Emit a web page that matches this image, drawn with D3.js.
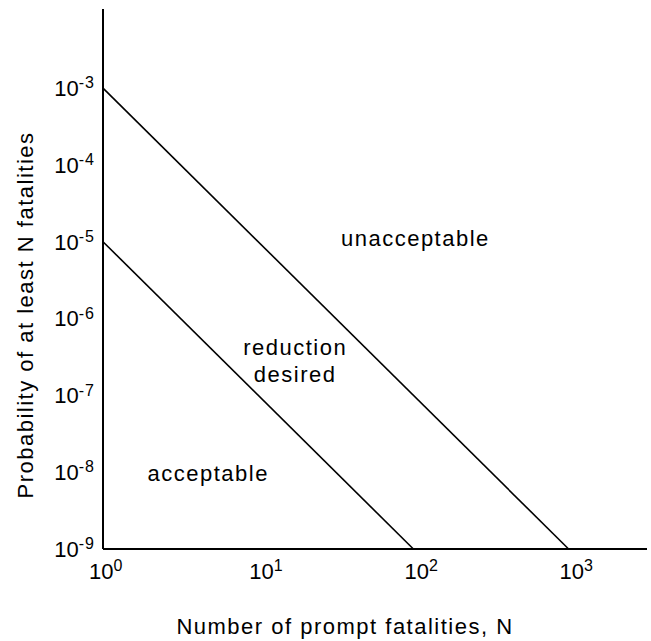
<!DOCTYPE html>
<html>
<head>
<meta charset="utf-8">
<script src="https://cdn.jsdelivr.net/npm/d3@7"></script>
<style>
    body { margin: 0; background: #fff; }
    #chart { width: 651px; height: 641px; }
    text { font-family: "Liberation Sans", Arial, sans-serif; fill: #000; }
</style>
</head>
<body>
<div id="chart"></div>
<script>
// limit lines (N, probability)
const upperN = [1, 1000];
const upperP = [1e-3, 1e-9];
const lowerN = [1, 100];
const lowerP = [1e-5, 1e-9];

const xTickExps = [0, 1, 2, 3];
const yTickExps = [-3, -4, -5, -6, -7, -8, -9];

const xDomain = [1, 3200];
const yDomain = [1e-9, 0.0107];

// region labels, anchored in data coords
const regionText = [["unacceptable"], ["reduction", "desired"], ["acceptable"]];
const regionN = [103, 17.3, 4.76];
const regionP = [8.9e-6, 3.4e-7, 7.7e-9];

const xTitle = "Number of prompt fatalities, N";
const yTitle = "Probability of at least N fatalities";

class RiskChart {
    margin = { top: 9, right: 4, bottom: 92, left: 103 };
    constructor(id) {
        this.id = id;
        this.width = 651 - this.margin.left - this.margin.right;
        this.height = 641 - this.margin.top - this.margin.bottom;
        this.createEle();
        this.drawChart();
    }

    createEle() {
        this.svg = d3.select("#" + this.id)
            .append("svg")
            .attr("width", 651)
            .attr("height", 641);
        this.g = this.svg.append("g")
            .attr("transform", `translate(${this.margin.left},${this.margin.top})`);
        this.x = d3.scaleLog().domain(xDomain).range([0, this.width]);
        this.y = d3.scaleLog().domain(yDomain).range([this.height, 0]);
    }

    drawChart() {
        const x = this.x, y = this.y, g = this.g;
        const line = d3.line().x(d => x(d[0])).y(d => y(d[1]));

        const lines = [d3.zip(upperN, upperP), d3.zip(lowerN, lowerP)];
        g.selectAll("path.limit")
            .data(lines)
            .enter()
            .append("path")
            .attr("class", "limit")
            .attr("d", line)
            .attr("fill", "none")
            .attr("stroke", "#000")
            .attr("stroke-width", 1.6);

        // axes (no ticks, just the lines)
        g.append("line")
            .attr("x1", 0).attr("x2", 0)
            .attr("y1", 0).attr("y2", this.height)
            .attr("stroke", "#000").attr("stroke-width", 2);
        g.append("line")
            .attr("x1", 0).attr("x2", this.width)
            .attr("y1", this.height).attr("y2", this.height)
            .attr("stroke", "#000").attr("stroke-width", 2);

        // y tick labels
        const yt = g.selectAll("text.ytick")
            .data(yTickExps)
            .enter()
            .append("text")
            .attr("class", "ytick")
            .attr("x", -8)
            .attr("y", d => y(Math.pow(10, d)))
            .attr("dy", "0.36em")
            .attr("text-anchor", "end")
            .attr("font-size", 22);
        yt.append("tspan").text("10");
        yt.append("tspan").attr("dy", "-0.48em").attr("font-size", 16)
            .attr("letter-spacing", "1px").text(d => "-" + Math.abs(d));

        // x tick labels
        const xt = g.selectAll("text.xtick")
            .data(xTickExps)
            .enter()
            .append("text")
            .attr("class", "xtick")
            .attr("x", d => x(Math.pow(10, d)) - (d === 0 ? 14 : 9))
            .attr("y", this.height + 30)
            .attr("font-size", 22);
        xt.append("tspan").text("10");
        xt.append("tspan").attr("dy", "-0.48em").attr("font-size", 16).text(d => d);

        // region labels
        regionText.forEach((lines, i) => {
            const t = g.append("text")
                .attr("x", x(regionN[i]))
                .attr("y", y(regionP[i]))
                .attr("text-anchor", "middle")
                .attr("font-size", 22)
                .attr("letter-spacing", "1.5px");
            lines.forEach((s, j) => {
                t.append("tspan")
                    .attr("x", x(regionN[i]))
                    .attr("dy", j === 0 ? 0 : 27)
                    .text(s);
            });
        });

        // axis titles
        g.append("text")
            .attr("x", 345 - this.margin.left)
            .attr("y", this.height + 85)
            .attr("text-anchor", "middle")
            .attr("font-size", 22)
            .attr("letter-spacing", "1.5px")
            .text(xTitle);
        g.append("text")
            .attr("transform", `translate(${33 - this.margin.left},${315 - this.margin.top}) rotate(-90)`)
            .attr("text-anchor", "middle")
            .attr("font-size", 22)
            .attr("letter-spacing", "1.5px")
            .text(yTitle);
    }
}

new RiskChart("chart");
</script>
</body>
</html>
